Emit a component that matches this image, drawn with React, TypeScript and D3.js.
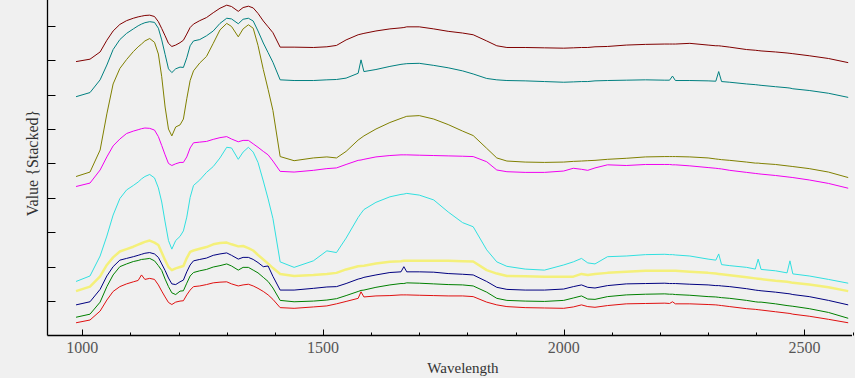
import React from "react";
import * as d3 from "d3";

const wavelengths = [
  987, 1016, 1037, 1051, 1064, 1078, 1092, 1106, 1116, 1123,
  1130, 1140, 1150, 1158, 1165, 1172, 1179, 1186, 1194, 1203,
  1210, 1217, 1224, 1231, 1244, 1258, 1272, 1286, 1300, 1310,
  1324, 1334, 1345, 1355, 1365, 1376, 1386, 1396, 1411, 1440,
  1480, 1508, 1528, 1548, 1573, 1579, 1585, 1610, 1639, 1662,
  1668, 1674, 1700, 1730, 1760, 1790, 1812, 1840, 1861, 1882,
  1920, 1960, 2000, 2020, 2037, 2050, 2065, 2091, 2130, 2170,
  2210, 2220, 2226, 2232, 2262, 2300, 2316, 2322, 2328, 2345,
  2380, 2398, 2404, 2410, 2440, 2464, 2470, 2476, 2510, 2550,
  2591,
];

const darkRedValues = [
  79.6, 80.3, 82.4, 85.8, 88.5, 90.4, 91.5, 92.2, 92.6, 92.8,
  93.0, 93.1, 92.7, 91.2, 89.2, 87.1, 84.9, 84.0, 84.4, 85.1,
  85.8, 87.6, 89.5, 90.5, 91.5, 92.4, 93.8, 95.1, 96.0, 95.6,
  94.2, 95.3, 95.7, 95.2, 93.6, 91.4, 89.7, 88.0, 83.8, 83.8,
  83.7, 83.9, 84.3, 85.9, 87.4, 87.6, 87.8, 88.5, 89.1, 89.4,
  89.5, 89.7, 89.7, 89.1, 88.4, 87.9, 87.4, 85.6, 84.2, 83.7,
  83.7, 83.6, 83.5, 83.6, 83.7, 83.7, 83.9, 84.0, 84.4, 84.6,
  84.7, 84.7, 84.7, 84.7, 84.9, 84.4, 84.2, 84.2, 84.1, 83.8,
  83.1, 82.9, 82.8, 82.7, 82.4, 82.1, 82.0, 81.9, 81.3, 80.5,
  79.3,
];

const tealValues = [
  69.4, 70.6, 74.3, 78.6, 83.1, 86.0, 87.8, 89.1, 90.0, 90.5,
  90.9, 91.2, 91.0, 89.3, 85.9, 81.7, 77.5, 76.4, 77.5, 78.0,
  77.9, 80.7, 84.2, 85.6, 86.0, 87.1, 88.5, 90.7, 92.2, 92.0,
  90.6, 91.9, 92.2, 91.4, 88.5, 85.0, 82.2, 79.4, 74.3, 74.1,
  74.1, 74.3, 74.4, 74.8, 76.2, 80.1, 76.7, 77.3, 78.2, 78.8,
  78.9, 79.0, 79.1, 78.5, 77.8, 76.9, 76.0, 74.7, 74.3, 74.1,
  74.0, 73.8, 73.6, 73.7, 73.8, 73.8, 74.0, 74.1, 74.2, 74.3,
  74.2, 74.2, 75.4, 74.1, 74.1, 74.0, 73.9, 76.7, 73.8, 73.6,
  73.1, 72.9, 72.8, 72.7, 72.3, 72.0, 71.9, 71.7, 71.2, 70.4,
  69.2,
];

const oliveValues = [
  46.2, 47.5, 53.9, 64.4, 73.1, 77.6, 80.2, 82.5, 83.9, 84.7,
  85.6, 86.3, 85.2, 81.8, 75.2, 66.4, 60.0, 58.0, 60.6, 61.2,
  62.9, 68.8, 74.1, 76.9, 79.2, 81.1, 84.9, 88.8, 90.7, 89.8,
  86.8, 89.1, 90.3, 89.3, 84.3, 77.3, 71.5, 65.4, 52.0, 50.8,
  51.6, 51.9, 51.6, 53.5, 56.8, 57.4, 58.0, 60.0, 61.9, 63.1,
  63.4, 63.7, 63.9, 62.9, 61.3, 59.4, 58.1, 54.4, 51.6, 50.7,
  50.4, 50.3, 50.4, 50.6, 50.7, 50.8, 50.9, 51.2, 51.5, 51.9,
  52.0, 52.0, 52.0, 52.0, 51.9, 51.6, 51.3, 51.2, 51.1, 50.9,
  50.4, 50.1, 50.1, 50.0, 49.7, 49.3, 49.2, 49.1, 48.5, 47.5,
  45.9,
];

const magentaValues = [
  43.3, 44.3, 48.1, 51.9, 55.1, 57.1, 58.7, 59.4, 59.8, 60.1,
  60.3, 60.2, 59.7, 57.8, 55.2, 52.5, 50.0, 49.4, 49.9, 50.3,
  50.3, 51.9, 54.5, 56.0, 56.2, 56.4, 57.0, 57.5, 57.8, 57.1,
  56.3, 56.7, 56.7, 55.7, 54.7, 53.5, 52.5, 50.7, 47.7, 47.5,
  48.0, 48.5, 48.7, 49.7, 50.9, 51.0, 51.2, 51.9, 52.3, 52.5,
  52.5, 52.5, 52.4, 52.3, 52.2, 52.1, 52.0, 50.5, 48.1, 47.6,
  47.4, 47.4, 47.8, 48.6, 48.3, 48.0, 48.7, 49.6, 49.4, 49.7,
  49.7, 49.7, 49.6, 49.6, 49.3, 48.8, 48.6, 48.5, 48.4, 48.0,
  47.4, 47.1, 47.0, 46.9, 46.5, 46.1, 46.0, 45.9, 45.2, 44.2,
  42.8,
];

const cyanValues = [
  15.7, 17.3, 23.1, 28.9, 35.0, 39.8, 42.3, 43.6, 44.6, 45.5,
  46.2, 46.8, 45.8, 42.9, 38.8, 33.0, 27.6, 25.1, 27.6, 28.8,
  30.4, 34.4, 40.1, 43.6, 45.2, 47.4, 49.1, 51.6, 54.7, 54.5,
  51.2, 53.3, 54.7, 53.3, 50.3, 44.9, 39.7, 34.0, 21.4, 19.8,
  21.7, 24.6, 24.1, 28.3, 34.3, 35.5, 36.6, 38.7, 40.3, 41.0,
  41.1, 41.3, 40.8, 39.4, 35.9, 32.8, 31.6, 24.9, 21.4, 20.1,
  19.3, 19.0, 20.5, 21.4, 22.4, 21.1, 20.8, 22.9, 23.1, 23.5,
  23.6, 23.5, 23.5, 23.4, 23.1, 22.2, 21.9, 23.7, 20.6, 20.3,
  19.8, 19.3, 22.2, 19.2, 18.8, 18.2, 21.7, 17.9, 17.3, 16.3,
  15.2,
];

const yellowValues = [
  12.9, 14.2, 17.2, 20.5, 22.7, 24.4, 25.1, 25.8, 26.4, 26.8,
  27.2, 27.6, 27.0, 26.3, 24.1, 21.9, 19.9, 19.0, 19.5, 19.9,
  20.2, 22.5, 24.3, 24.7, 25.2, 25.7, 26.5, 26.9, 27.0, 26.5,
  25.9, 26.0, 25.4, 24.7, 23.4, 22.1, 20.9, 19.6, 17.9, 17.3,
  17.6, 17.9, 18.2, 19.2, 20.1, 20.2, 20.3, 20.9, 21.4, 21.6,
  21.7, 21.7, 21.7, 21.7, 21.7, 21.6, 21.5, 19.0, 18.0, 17.3,
  17.2, 17.1, 17.1, 17.1, 17.9, 17.6, 17.9, 18.2, 18.5, 18.8,
  18.8, 18.8, 18.8, 18.8, 18.5, 18.2, 18.0, 17.9, 17.8, 17.5,
  16.9, 16.6, 16.5, 16.4, 15.9, 15.6, 15.5, 15.3, 14.8, 14.0,
  12.9,
];

const navyValues = [
  8.9, 9.8, 13.4, 17.3, 20.0, 21.9, 22.4, 22.9, 23.3, 23.6,
  23.9, 24.1, 23.7, 22.7, 20.8, 18.9, 16.7, 15.0, 14.8, 15.6,
  16.1, 18.5, 20.5, 21.7, 22.1, 22.5, 23.3, 23.7, 24.0, 23.3,
  22.2, 22.7, 22.7, 22.1, 21.2, 20.0, 20.2, 17.2, 13.2, 13.2,
  13.7, 14.1, 14.2, 15.1, 16.4, 16.6, 16.9, 17.6, 18.3, 18.5,
  20.0, 18.5, 18.5, 18.4, 18.0, 17.8, 17.6, 15.7, 14.0, 13.4,
  13.2, 13.2, 13.5, 14.2, 14.7, 14.0, 13.8, 14.5, 15.0, 15.1,
  15.2, 15.1, 15.1, 15.1, 14.9, 14.7, 14.5, 14.5, 14.4, 14.2,
  13.6, 13.2, 13.1, 13.0, 12.6, 12.2, 12.1, 11.9, 11.3, 10.2,
  8.9,
];

const greenValues = [
  5.3, 6.2, 9.7, 14.2, 17.6, 20.0, 20.8, 21.5, 21.8, 22.1,
  22.2, 22.4, 21.7, 20.3, 18.9, 16.4, 14.2, 12.4, 11.9, 12.9,
  13.0, 15.2, 17.3, 18.3, 18.8, 19.2, 19.9, 20.3, 20.8, 20.2,
  19.0, 19.8, 19.8, 19.0, 18.2, 16.9, 15.7, 13.8, 10.2, 9.8,
  10.0, 10.3, 10.7, 11.6, 12.8, 13.1, 13.2, 14.0, 14.7, 15.1,
  15.1, 15.3, 15.2, 15.0, 14.8, 14.7, 14.4, 12.6, 10.8, 10.2,
  10.0, 9.9, 10.2, 10.9, 11.5, 10.6, 10.5, 11.3, 11.8, 12.0,
  12.1, 12.0, 12.0, 11.9, 11.7, 11.3, 11.2, 11.1, 11.0, 10.8,
  10.2, 9.8, 9.7, 9.7, 9.2, 8.7, 8.6, 8.5, 7.8, 6.7,
  5.0,
];

const redValues = [
  3.7, 4.5, 7.1, 10.3, 12.8, 14.2, 15.0, 15.6, 16.0, 17.6,
  16.3, 16.6, 16.3, 14.7, 12.9, 11.2, 9.6, 9.0, 9.7, 10.0,
  10.1, 11.8, 13.2, 14.2, 14.4, 14.8, 15.3, 15.5, 15.6, 15.0,
  14.4, 14.7, 14.9, 14.4, 13.7, 12.8, 11.8, 10.5, 8.1, 7.9,
  8.3, 8.6, 9.2, 9.9, 10.8, 12.7, 11.2, 11.5, 11.6, 11.8,
  11.8, 11.8, 11.7, 11.6, 11.5, 11.5, 11.3, 9.7, 8.9, 8.4,
  8.1, 8.0, 7.9, 8.3, 8.9, 8.4, 8.2, 8.7, 9.2, 9.3,
  9.4, 9.3, 9.8, 9.2, 9.2, 9.0, 8.9, 8.8, 8.7, 8.4,
  7.8, 7.6, 7.5, 7.4, 6.9, 6.5, 6.4, 6.2, 5.6, 4.7,
  3.7,
];

const xMajorTicks = [1000, 1500, 2000, 2500];
const xMinorTicks = [1100, 1200, 1300, 1400, 1600, 1700, 1800, 1900, 2100, 2200, 2300, 2400, 2600];
const yTicks = [10, 20, 30, 40, 50, 60, 70, 80, 90];

const series = [
  { name: "s9", values: redValues, color: "#e01010", width: 1 },
  { name: "s8", values: greenValues, color: "#008000", width: 1 },
  { name: "s7", values: navyValues, color: "#000080", width: 1 },
  { name: "s6", values: yellowValues, color: "#f4f07a", width: 2.5 },
  { name: "s5", values: cyanValues, color: "#30e0e0", width: 1 },
  { name: "s4", values: magentaValues, color: "#f000f0", width: 1 },
  { name: "s3", values: oliveValues, color: "#808000", width: 1 },
  { name: "s2", values: tealValues, color: "#008080", width: 1 },
  { name: "s1", values: darkRedValues, color: "#800000", width: 1 },
];

const W = 855;
const H = 378;
const X0 = 47.5;
const X1 = 852;
const Y0 = 335.5;

export default function App() {
  const x = d3.scaleLinear().domain([927.7, 2598.9]).range([X0, X1]);
  const y = d3.scaleLinear().domain([0, 97.5]).range([Y0, 0]);
  const font = "'Liberation Serif', 'Times New Roman', serif";

  return (
    <svg
      width={W}
      height={H}
      style={{ position: "absolute", left: 0, top: 0, display: "block" }}
    >
      <rect x={0} y={0} width={W} height={H} fill="#f0f0f0" />
      {series.map((s) => {
        const line = d3
          .line<number>()
          .x((_, i) => x(wavelengths[i]))
          .y((v) => y(v));
        return (
          <path
            key={s.name}
            d={line(s.values) || ""}
            fill="none"
            stroke={s.color}
            strokeWidth={s.width}
            strokeLinejoin="round"
          />
        );
      })}
      <line x1={X0} x2={X0} y1={0} y2={Y0} stroke="#000" strokeWidth={1.3} />
      <line x1={X0} x2={X1} y1={Y0} y2={Y0} stroke="#000" strokeWidth={1.3} />
      {yTicks.map((t) => (
        <line key={"yt" + t} x1={X0} x2={X0 + 8} y1={Math.round(y(t)) + 0.5} y2={Math.round(y(t)) + 0.5} stroke="#000" strokeWidth={1} />
      ))}
      {xMajorTicks.map((t) => (
        <line key={"xt" + t} x1={Math.round(x(t)) + 0.5} x2={Math.round(x(t)) + 0.5} y1={Y0} y2={Y0 - 6} stroke="#000" strokeWidth={1} />
      ))}
      {xMinorTicks.map((t) => (
        <line key={"xm" + t} x1={Math.round(x(t)) + 0.5} x2={Math.round(x(t)) + 0.5} y1={Y0} y2={Y0 - 3} stroke="#000" strokeWidth={1} />
      ))}
      {xMajorTicks.map((t) => (
        <text
          key={"xl" + t}
          x={x(t)}
          y={353}
          textAnchor="middle"
          fontFamily={font}
          fontSize={16}
          fill="#555"
        >
          {t}
        </text>
      ))}
      <text x={463} y={373} textAnchor="middle" fontFamily={font} fontSize={15} fill="#333">
        Wavelength
      </text>
      <text
        transform="translate(38,163) rotate(-90)"
        textAnchor="middle"
        fontFamily={font}
        fontSize={16}
        fill="#333"
      >
        Value {"{Stacked}"}
      </text>
    </svg>
  );
}
